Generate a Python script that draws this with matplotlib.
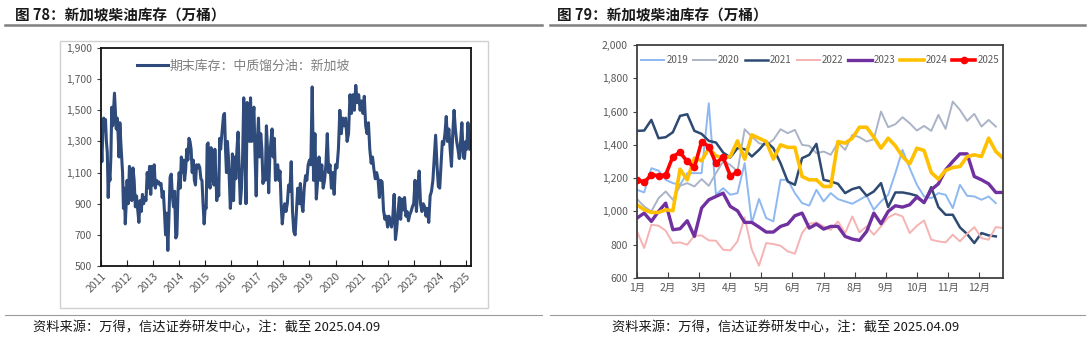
# 新加坡柴油库存 - 两幅图
import numpy as np
import matplotlib
matplotlib.use('Agg')
import matplotlib.pyplot as plt
from matplotlib.patches import Rectangle
from matplotlib.lines import Line2D

plt.rcParams['font.family'] = ['Noto Sans CJK SC', 'DejaVu Sans']
plt.rcParams['axes.unicode_minus'] = False

# 左图：期末库存（按年读数，每年内均匀分布）
inv_by_year = {
    2011: [1300, 1170, 1350, 1450, 1420, 1440, 1300, 1230, 940, 1100, 1050, 1200, 1520, 1400, 1500,
           1610, 1500, 1380, 1450, 1350, 1200, 1420, 1300, 1200, 1100, 870, 1000, 770, 890],
    2012: [1050, 900, 1140, 1100, 920, 1130, 1050, 880, 950, 860, 780, 920, 850, 960, 900, 940,
           920, 1100, 1000, 1140, 960, 1140],
    2013: [1020, 1150, 1000, 1050, 1030, 1040, 1020, 1030, 940, 980, 850, 700, 840, 600, 820, 1070,
           1090, 950, 880, 980, 680, 700, 980],
    2014: [1100, 1000, 1200, 1100, 1180, 1050, 1120, 1250, 1180, 1320, 1300, 1250, 1100, 1180, 1050,
           1020, 1150, 1130, 1150, 1130, 1060, 1050, 900, 770],
    2015: [880, 870, 1280, 1290, 1050, 1000, 1260, 1200, 1050, 1020, 1250, 1080, 920, 1060, 950,
           1320, 1250, 1330, 1400, 1470, 1480, 1250, 1100, 1300, 1200, 1050, 870],
    2016: [950, 1220, 920, 1200, 1060, 1250, 1360, 1100, 900, 1000, 1200, 1580, 1260, 900, 1550,
           1500, 1300, 1580, 1300, 1450, 1520, 1200, 950],
    2017: [1300, 1450, 1200, 1350, 1250, 1030, 1100, 1050, 1400, 1250, 970, 1200, 1300, 1380, 1200,
           1320, 1050, 1100, 1150, 1050, 1110, 900, 770],
    2018: [850, 900, 850, 900, 1020, 980, 1170, 850, 720, 700, 850, 1000, 900, 1030, 900, 850, 1000,
           1080, 1050, 1150],
    2019: [1180, 1150, 1650, 1050, 1350, 930, 1050, 1200, 1050, 1150, 1000, 1050, 1150, 1350, 1100,
           1150, 1000, 1100, 960],
    2020: [1150, 1130, 1250, 1500, 1350, 1450, 1400, 1450, 1300, 1350, 1600, 1480, 1600, 1500, 1660,
           1550, 1600, 1500],
    2021: [1560, 1480, 1590, 1400, 1350, 1420, 1250, 1160, 1200, 1120, 1060, 1100, 1060, 940, 1050,
           1040, 860, 800, 820],
    2022: [750, 820, 780, 750, 820, 960, 670, 740, 850, 940, 800, 930, 860, 940, 820, 850, 790, 830,
           850, 880],
    2023: [900, 1050, 850, 1000, 1110, 900, 850, 900, 880, 820, 870, 780, 950, 980, 1050, 1200, 1340,
           1150, 1010],
    2024: [1000, 1150, 1300, 1280, 1350, 1460, 1300, 1380, 1250, 1140, 1350, 1500, 1380, 1300, 1250,
           1190, 1300, 1420, 1200, 1190],
    2025: [1300, 1250, 1420, 1350, 1250],
}
years = list(range(2011, 2026))

# 右图：按周季节性
weeks_ticks = ['1月', '2月', '3月', '4月', '5月', '6月', '7月', '8月', '9月', '10月', '11月', '12月']
s2019 = [1130, 1114, 1260, 1245, 1190, 1170, 1160, 1230, 1230, 1230, 1650, 1100, 1140, 1100, 1110,
         1290, 930, 1075, 960, 940, 1190, 1190, 1110, 1050, 1035, 1130, 1060, 1110, 1074, 1060, 1046,
         1070, 1094, 1010, 1060, 1100, 1230, 1370, 1260, 1160, 1090, 1080, 1110, 1100, 1020, 1160,
         1094, 1090, 1070, 1090, 1050]
s2020 = [1074, 1030, 1000, 1080, 1120, 1070, 1154, 1170, 1150, 1194, 1154, 1230, 1300, 1280, 1240,
         1494, 1450, 1410, 1400, 1430, 1494, 1470, 1490, 1400, 1394, 1350, 1360, 1340, 1414, 1370,
         1460, 1446, 1420, 1434, 1600, 1506, 1524, 1566, 1530, 1486, 1514, 1484, 1580, 1496, 1660,
         1610, 1544, 1586, 1510, 1550, 1510]
s2021 = [1484, 1486, 1550, 1440, 1446, 1476, 1574, 1584, 1484, 1466, 1424, 1414, 1354, 1324, 1380,
         1374, 1330, 1370, 1420, 1380, 1290, 1180, 1160, 1320, 1340, 1406, 1190, 1180, 1166, 1110,
         1134, 1146, 1094, 1120, 1170, 1026, 1114, 1114, 1106, 1094, 1050, 1146, 1026, 980, 980, 904,
         864, 810, 870, 856, 850]
s2022 = [880, 780, 920, 914, 884, 810, 814, 800, 854, 856, 826, 824, 770, 766, 820, 964, 770, 674,
         810, 804, 794, 760, 746, 870, 926, 934, 910, 890, 940, 870, 970, 874, 910, 860, 910, 964,
         986, 970, 870, 914, 946, 830, 820, 814, 860, 820, 866, 906, 840, 830, 906, 900]
s2023 = [960, 990, 940, 1000, 1050, 890, 896, 944, 850, 1020, 1070, 1090, 1110, 1030, 1004, 934,
         934, 906, 876, 876, 910, 924, 974, 990, 900, 924, 894, 910, 910, 850, 834, 826, 880, 990,
         926, 1000, 1034, 1026, 1040, 1086, 1054, 1130, 1166, 1250, 1300, 1346, 1346, 1210, 1190,
         1166, 1114, 1114]
s2024 = [1040, 1010, 994, 994, 1010, 1004, 1254, 1190, 1320, 1304, 1380, 1334, 1320, 1330, 1424,
         1314, 1460, 1440, 1420, 1315, 1400, 1385, 1385, 1210, 1190, 1190, 1150, 1150, 1420, 1410,
         1440, 1506, 1506, 1446, 1380, 1440, 1394, 1330, 1286, 1380, 1366, 1234, 1194, 1246, 1264,
         1270, 1330, 1340, 1330, 1440, 1360, 1320]
s2025 = [1190, 1175, 1220, 1215, 1220, 1330, 1355, 1300, 1265, 1420, 1390, 1290, 1325, 1215, 1235]

W, H = 1088, 342
fig = plt.figure(figsize=(W / 100, H / 100), dpi=100)


def px_axes(x0, y0, x1, y1):
    return fig.add_axes([x0 / W, 1 - y1 / H, (x1 - x0) / W, (y1 - y0) / H])


# 标题和横线
fig.text(15 / W, 1 - 15 / H, '图 78：新加坡柴油库存（万桶）', fontsize=10.5, fontweight='bold',
         color='#1a1a1a', va='center')
fig.text(557 / W, 1 - 15 / H, '图 79：新加坡柴油库存（万桶）', fontsize=10.5, fontweight='bold',
         color='#1a1a1a', va='center')
for xa, xb in [(5, 542), (550, 1085)]:
    fig.add_artist(Line2D([xa / W, xb / W], [1 - 25 / H, 1 - 25 / H], color='#7f7f7f', lw=1.8))
    fig.add_artist(Line2D([xa / W, xb / W], [1 - 315 / H, 1 - 315 / H], color='#9a9a9a', lw=0.8))

# 左图外框
fig.add_artist(Rectangle((60 / W, 1 - 308 / H), 428 / W, 267 / H, transform=fig.transFigure,
                         fill=False, edgecolor='#d0d0d0', lw=1))

# 左图
ax1 = px_axes(101, 48, 471, 266)
xs, ys = [], []
for yr in years:
    vals = inv_by_year[yr]
    span = 0.2 if yr == 2025 else 1.0
    xs.extend(np.linspace(yr, yr + span, len(vals), endpoint=False))
    ys.extend(vals)
ax1.plot(xs, ys, color='#2f4b7c', lw=2.2, label='期末库存：中质馏分油：新加坡')
ax1.set_xlim(2011, 2025.2)
ax1.set_ylim(500, 1900)
ax1.set_yticks(range(500, 1901, 200))
ax1.set_yticklabels([f'{v:,}' for v in range(500, 1901, 200)])
ax1.set_xticks(years)
ax1.set_xticklabels([str(y) for y in years], rotation=45, ha='right', rotation_mode='anchor')
ax1.tick_params(axis='y', direction='out', length=3, labelsize=7.5, labelcolor='#595959', color='#404040')
ax1.tick_params(axis='x', direction='in', length=4, labelsize=7.5, labelcolor='#595959', color='#202020')
for s in ax1.spines.values():
    s.set_color('#111111')
    s.set_linewidth(1.3)
ax1.legend(loc='upper left', bbox_to_anchor=(0.065, 1.0), frameon=False, fontsize=9.3,
           handlelength=2.4, handletextpad=0.15, labelcolor='#7f7f7f')

# 右图
ax2 = px_axes(637, 45, 1003, 278)
series = [
    ('2019', s2019, '#8db8f2', 1.4, None),
    ('2020', s2020, '#aab4c6', 1.4, None),
    ('2021', s2021, '#2e4a72', 1.8, None),
    ('2022', s2022, '#f6b3b3', 1.4, None),
    ('2023', s2023, '#7030a0', 2.4, None),
    ('2024', s2024, '#ffc000', 2.6, None),
    ('2025', s2025, '#ff0000', 2.6, 'o'),
]
for name, vals, col, lw, mk in series:
    ax2.plot(range(len(vals)), vals, color=col, lw=lw, marker=mk, markersize=4.5, label=name)
ax2.set_xlim(0, 51)
ax2.set_ylim(600, 2000)
ax2.set_yticks(range(600, 2001, 200))
ax2.set_yticklabels([f'{v:,}' for v in range(600, 2001, 200)])
ax2.set_xticks([i * 52 / 12 for i in range(12)])
ax2.set_xticklabels(weeks_ticks)
ax2.tick_params(axis='y', direction='out', length=3, labelsize=7.5, labelcolor='#595959', color='#404040')
ax2.tick_params(axis='x', direction='in', length=4, labelsize=7.5, labelcolor='#595959', color='#404040')
for s in ax2.spines.values():
    s.set_color('#404040')
    s.set_linewidth(1.3)
ax2.legend(loc='upper center', bbox_to_anchor=(0.5, 0.995), ncol=7, frameon=False, fontsize=7,
           handlelength=2.4, handletextpad=0.2, columnspacing=0.5, labelcolor='#595959')

# 来源
fig.text(33 / W, 1 - 328 / H, '资料来源：万得，信达证券研发中心，注：截至 2025.04.09', fontsize=9.5,
         style='italic', color='#1a1a1a', va='center')
fig.text(612 / W, 1 - 328 / H, '资料来源：万得，信达证券研发中心，注：截至 2025.04.09', fontsize=9.5,
         style='italic', color='#1a1a1a', va='center')

fig.savefig('out.png', dpi=100)
